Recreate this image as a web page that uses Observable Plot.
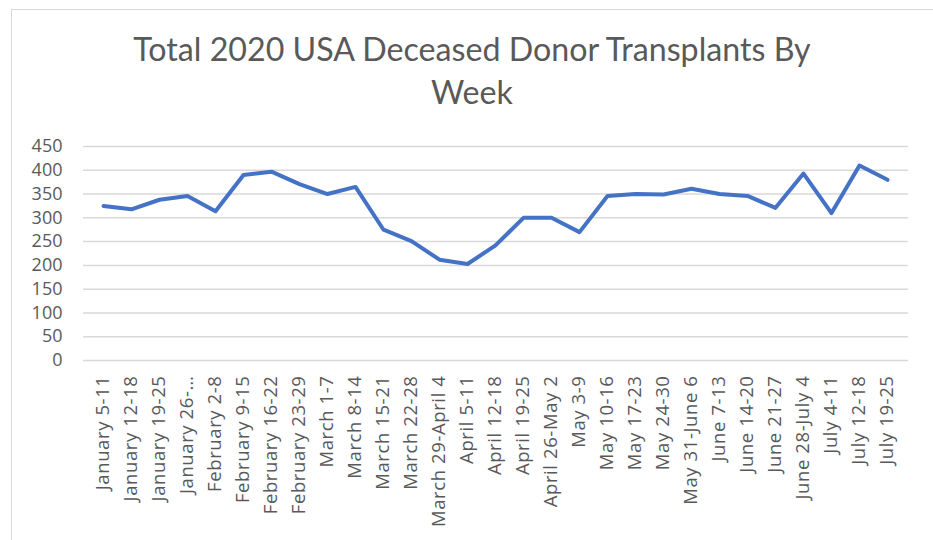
<!DOCTYPE html>
<html><head><meta charset="utf-8">
<script src="https://cdn.jsdelivr.net/npm/d3@7"></script>
<script src="https://cdn.jsdelivr.net/npm/@observablehq/plot@0.6"></script>
<style>
body{margin:0;background:#fff;}
#wrap{position:relative;width:933px;height:540px;overflow:hidden;background:#fff;}
#frame{position:absolute;left:11px;top:9px;width:960px;height:600px;border:1.5px solid #d9d9d9;box-sizing:border-box;}
#title{position:absolute;left:12px;width:920px;top:27px;text-align:center;font-family:Lato,sans-serif;font-size:32.2px;line-height:43px;color:#595959;white-space:nowrap;}
#chart{position:absolute;left:0;top:0;}
#chart svg g[aria-label="x-axis tick label"] text{letter-spacing:0.6px;}
</style></head><body>
<div id="wrap"><div id="frame"></div><div id="chart"></div><div id="title">Total 2020 USA Deceased Donor Transplants By<br>Week</div></div>
<script>
const weeks = ["January 5-11","January 12-18","January 19-25","January 26-\u2026","February 2-8","February 9-15","February 16-22","February 23-29","March 1-7","March 8-14","March 15-21","March 22-28","March 29-April 4","April 5-11","April 12-18","April 19-25","April 26-May 2","May 3-9","May 10-16","May 17-23","May 24-30","May 31-June 6","June 7-13","June 14-20","June 21-27","June 28-July 4","July 4-11","July 12-18","July 19-25"];
const transplants = [325,318,338,346,314,390,397,371,350,365,275,251,212,203,242,300,300,270,346,350,349,361,350,346,321,393,310,410,380];
const yTicks = [0,50,100,150,200,250,300,350,400,450];
const data = weeks.map((w,i)=>({week:w, value:transplants[i]}));
const chart = Plot.plot({
  width:933, height:540, marginTop:146, marginBottom:180, marginLeft:83, marginRight:25,
  style:{fontFamily:"'Open Sans',sans-serif", color:"#595959", background:"transparent", overflow:"visible"},
  x:{type:"point", domain:weeks, range:[96.5, 893], padding:0, label:null},
  y:{domain:[0,450], label:null},
  marks:[
    Plot.gridY(yTicks,{stroke:"#d9d9d9", strokeOpacity:1, strokeWidth:1.5}),
    Plot.axisY(yTicks,{tickSize:0, tickPadding:21, fontSize:18, label:null, fill:"#595959"}),
    Plot.axisX({tickSize:0, tickRotate:-90, tickPadding:15, fontSize:18.5, label:null, fill:"#595959"}),
    Plot.lineY(data,{x:"week", y:"value", stroke:"#4472c4", strokeWidth:4, strokeLinejoin:"round", strokeLinecap:"round"})
  ]
});
document.getElementById("chart").appendChild(chart);
</script></body></html>
